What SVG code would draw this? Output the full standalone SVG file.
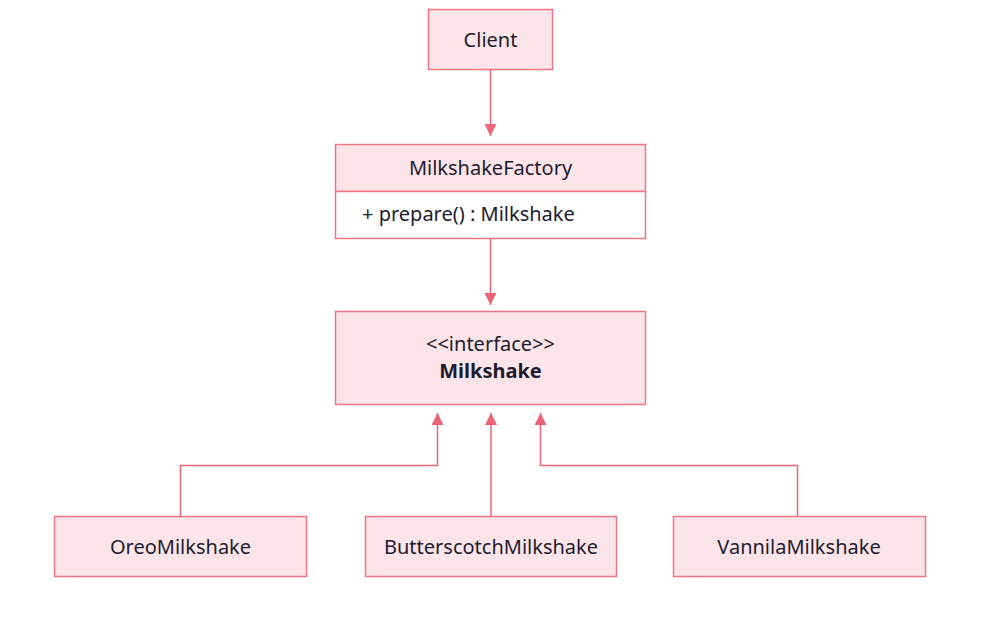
<svg xmlns="http://www.w3.org/2000/svg" width="981" height="618" viewBox="0 0 981 618">
<style>
.box{fill:#fde4e9;stroke:#f07585;stroke-width:1.5}
.white{fill:#ffffff;stroke:#f07585;stroke-width:1.5}
.t{font-family:"Noto Sans","Open Sans",sans-serif;font-size:20px;fill:#1b1c30;text-anchor:middle}
.b{font-weight:bold}
.c{fill:none;stroke:#ee6377;stroke-width:1.5}
</style>
<defs>
<marker id="ah" markerWidth="12" markerHeight="12" refX="10" refY="5" orient="auto" markerUnits="userSpaceOnUse" viewBox="0 0 10 10">
<path d="M0,0 L10,5 L0,10 Z" fill="#ee6377"/>
</marker>
</defs>
<rect width="981" height="618" fill="#ffffff"/>
<g id="client">
<rect class="box" x="428.5" y="9.5" width="124" height="60"/>
<text class="t" x="490.5" y="47">Client</text>
</g>
<g id="factory">
<rect class="box" x="335.5" y="144.5" width="310" height="47"/>
<rect class="white" x="335.5" y="191.5" width="310" height="47"/>
<text class="t" x="490.5" y="175">MilkshakeFactory</text>
<text class="t" x="362" y="221" style="text-anchor:start">+ prepare() : Milkshake</text>
</g>
<g id="milkshake">
<rect class="box" x="335.5" y="311.5" width="310" height="93"/>
<text class="t" x="490.5" y="351">&lt;&lt;interface&gt;&gt;</text>
<text class="t b" x="490.5" y="378">Milkshake</text>
</g>
<g id="oreo">
<rect class="box" x="54.5" y="516.5" width="252" height="60"/>
<text class="t" x="180.5" y="554">OreoMilkshake</text>
</g>
<g id="butterscotch">
<rect class="box" x="365.5" y="516.5" width="251" height="60"/>
<text class="t" x="491" y="554">ButterscotchMilkshake</text>
</g>
<g id="vannila">
<rect class="box" x="673.5" y="516.5" width="252" height="60"/>
<text class="t" x="799" y="554">VannilaMilkshake</text>
</g>
<g id="connectors">
<path class="c" d="M490.5,70 V136" marker-end="url(#ah)"/>
<path class="c" d="M490.5,239 V305" marker-end="url(#ah)"/>
<path class="c" d="M180.5,516 V465.5 H437.5 V413" marker-end="url(#ah)"/>
<path class="c" d="M491,516 V413" marker-end="url(#ah)"/>
<path class="c" d="M797.5,516 V465.5 H540.5 V413" marker-end="url(#ah)"/>
</g>
</svg>
